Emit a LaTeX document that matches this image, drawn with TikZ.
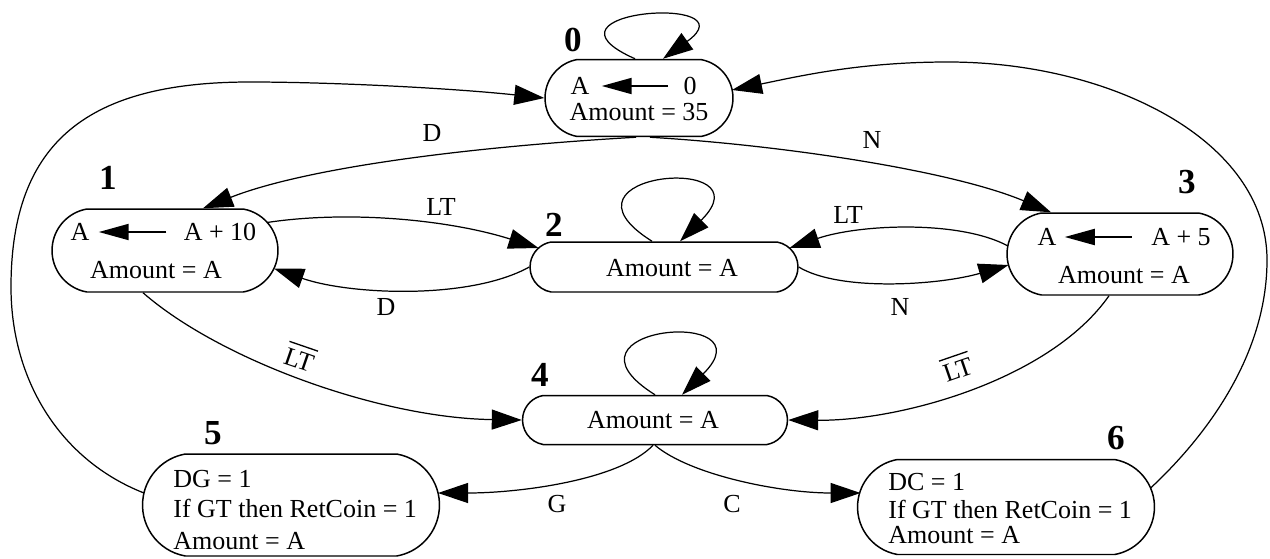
\documentclass[tikz,border=0pt]{standalone}
\usepackage{fontspec}
\setmainfont{Liberation Serif}
\usetikzlibrary{arrows.meta,shapes.misc,calc}
\begin{document}
\begin{tikzpicture}[x=0.02cm,y=-0.02cm,
  stbox/.style={draw, line width=0.85pt, rounded rectangle, rounded rectangle arc length=160, inner sep=0pt},
  edge/.style={line width=0.7pt, -{Triangle[length=0.6cm,width=0.4cm]}},
  inarrow/.style={line width=1.1pt, -{Triangle[length=0.6cm,width=0.32cm]}},
  txt/.style={inner sep=0pt, font=\fontsize{14.8}{17}\selectfont},
  barline/.style={line width=0.75pt},
  num/.style={inner sep=0pt, font=\fontsize{20}{24}\selectfont\bfseries}]
\useasboundingbox (0,0) rectangle (1270,558);

% state boxes
\node[stbox, minimum width=3.76cm, minimum height=1.54cm] (n0) at (639,98) {};
\node[stbox, minimum width=4.52cm, minimum height=1.66cm] (n1) at (165,250.5) {};
\node[stbox, minimum width=5.36cm, minimum height=1.00cm] (n2) at (664,267) {};
\node[stbox, minimum width=4.52cm, minimum height=1.64cm] (n3) at (1120,254) {};
\node[stbox, minimum width=5.30cm, minimum height=0.98cm] (n4) at (655,420) {};
\node[stbox, minimum width=5.94cm, minimum height=2.04cm] (n5) at (291,505) {};
\node[stbox, minimum width=5.94cm, minimum height=1.90cm] (n6) at (1006,507) {};

% state numbers
\node[num] (s0) at (573,40) {0};
\node[num] (s1) at (108,178) {1};
\node[num] (s2) at (554,225) {2};
\node[num] (s3) at (1187,182) {3};
\node[num] (s4) at (540,375) {4};
\node[num] (s5) at (213,433) {5};
\node[num] (s6) at (1116,438) {6};

% contents
\node[txt] (a0) at (580,86) {A};
\node[txt] (b0) at (690,86) {0};
\node[txt] (m0) at (639,112) {Amount = 35};
\draw[inarrow, shorten <=0.3cm, shorten >=0.24cm] (b0.west) -- (a0.east);

\node[txt] (a1) at (80,232) {A};
\node[txt] (b1) at (220,232) {A + 10};
\node[txt] (m1) at (156,270) {Amount = A};
\draw[inarrow, shorten <=0.34cm, shorten >=0.18cm] (b1.west) -- (a1.east);

\node[txt] (a3) at (1047,237) {A};
\node[txt] (b3) at (1181,237) {A + 5};
\node[txt] (m3) at (1124,275) {Amount = A};
\draw[inarrow, shorten <=0.38cm, shorten >=0.16cm] (b3.west) -- (a3.east);

\node[txt] (m2) at (672,268) {Amount = A};
\node[txt] (m4) at (653,420) {Amount = A};

\node[txt, anchor=west] (p5) at (173,479) {DG = 1};
\node[txt, anchor=west] (q5) at (173,508) {If GT then RetCoin = 1};
\node[txt, anchor=west] (r5) at (173,541) {Amount = A};

\node[txt, anchor=west] (p6) at (888,482) {DC = 1};
\node[txt, anchor=west] (q6) at (888,509) {If GT then RetCoin = 1};
\node[txt, anchor=west] (r6) at (888,535) {Amount = A};

% self loops
\draw[edge] ($(n0.north)+(-4,0)$) .. controls (525,10) and (753,-6) .. ($(n0.north)+(24,0)$);
\draw[edge] ($(n2.north)+(-12,0)$) .. controls (542,172) and (770,152) .. ($(n2.north)+(16,0)$);
\draw[edge] ($(n4.north)+(0,0)$) .. controls (545,326) and (772,306) .. ($(n4.north)+(27,0)$);

% transitions
\draw[edge] ($(n0.south)+(-3,0)$) .. controls (450,148) and (300,170) .. ($(n1.north)+(38,0)$);
\draw[edge] ($(n0.south)+(11,0)$) .. controls (780,145) and (950,170) .. ($(n3.north)+(-69,0)$);
\draw[edge] ($(n1.center)+(102,-28)$) .. controls (350,210) and (450,220) .. ($(n2.center)+(-125.5,-19)$);
\draw[edge] (n2.west) .. controls (470,300) and (350,295) .. ($(n1.center)+(109,18)$);
\draw[edge] ($(n3.center)+(-112,-8)$) .. controls (960,220) and (860,224) .. ($(n2.center)+(125.5,-19)$);
\draw[edge] (n2.east) .. controls (840,292) and (940,285) .. ($(n3.center)+(-111.5,11)$);
\draw[edge] ($(n1.south)+(-22,0)$) .. controls (220,360) and (380,418) .. (n4.west);
\draw[edge] ($(n3.south)+(-11,0)$) .. controls (1050,380) and (900,421) .. (n4.east);
\draw[edge] ($(n4.south)+(-2,0)$) .. controls (620,480) and (520,493) .. ($(n5.center)+(147,-12)$);
\draw[edge] (n4.south) .. controls (690,475) and (780,493) .. ($(n6.center)+(-145.4,-14)$);
\draw[edge] ($(n5.center)+(-147,-12)$) .. controls (60,460) and (11,380) .. (11,287)
   .. controls (11,140) and (90,82) .. (250,82)
   .. controls (330,82) and (450,88) .. (n0.west);
\draw[edge] ($(n6.center)+(144.6,-19)$) .. controls (1200,442) and (1267,360) .. (1267,260)
   .. controls (1267,140) and (1110,62) .. (948,62)
   .. controls (860,62) and (800,76) .. ($(n0.center)+(93,-8)$);

% transition labels
\node[txt] (l01) at (432,133) {D};
\node[txt] (l03) at (872,140) {N};
\node[txt] (l12) at (441,207) {LT};
\node[txt] (l21) at (386,307) {D};
\node[txt] (l32) at (848,215) {LT};
\node[txt] (l23) at (900,307) {N};
\node[txt, rotate=-19] (l14) at (299,360) {LT};
\draw[barline] ($(l14.north west)!-0.32!(l14.south west)$) -- ($(l14.north east)!-0.32!(l14.south east)$);
\node[txt, rotate=19] (l34) at (958,370) {LT};
\draw[barline] ($(l34.north west)!-0.32!(l34.south west)$) -- ($(l34.north east)!-0.32!(l34.south east)$);
\node[txt] (l45) at (557,504) {G};
\node[txt] (l46) at (732,504) {C};
\end{tikzpicture}
\end{document}
